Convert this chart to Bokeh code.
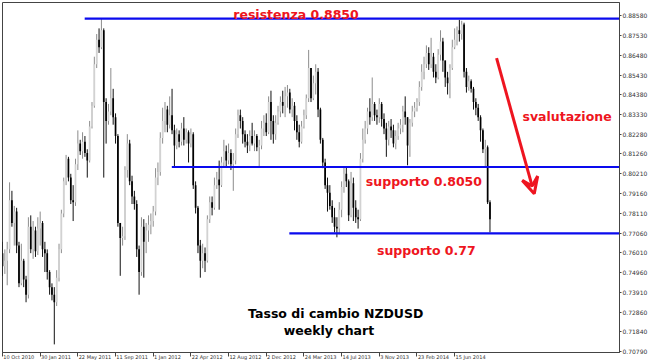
from bokeh.plotting import figure
from bokeh.models import (Range1d, FixedTicker, PrintfTickFormatter, Arrow, VeeHead,
                          ColumnDataSource, LinearAxis)
from bokeh.core.properties import value
from bokeh.embed import file_html
from bokeh.resources import INLINE

# ---- weekly NZDUSD candles ----
first_open = 0.7600
closes = [
    0.7530, 0.7560, 0.7620, 0.7880, 0.7760, 0.7820, 0.7640, 0.7440, 0.7560, 0.7460,
    0.7380, 0.7740, 0.7620, 0.7720, 0.7610, 0.7730, 0.7760, 0.7620, 0.7600, 0.7500,
    0.7420, 0.7380, 0.7340, 0.7470, 0.7620, 0.7810, 0.7980, 0.8100, 0.8000, 0.7880,
    0.7870, 0.8070, 0.8180, 0.8140, 0.8190, 0.8130, 0.8090, 0.8270, 0.8380, 0.8600,
    0.8730, 0.8690, 0.8780, 0.8400, 0.8300, 0.8350, 0.8420, 0.8320, 0.8220, 0.7760,
    0.7680, 0.7690, 0.8040, 0.8180, 0.7980, 0.7900, 0.7860, 0.7620, 0.7500, 0.7740,
    0.7660, 0.7720, 0.7750, 0.7770, 0.7820, 0.8000, 0.8030, 0.8210, 0.8300, 0.8360,
    0.8280, 0.8330, 0.8250, 0.8170, 0.8230, 0.8190, 0.8260, 0.8200, 0.8240, 0.8180,
    0.8230, 0.7960, 0.7840, 0.7640, 0.7560, 0.7600, 0.7560, 0.7780, 0.7870, 0.7840,
    0.7960, 0.7990, 0.7960, 0.8080, 0.8140, 0.8090, 0.8130, 0.8070, 0.8090, 0.8230,
    0.8330, 0.8300, 0.8230, 0.8190, 0.8170, 0.8220, 0.8180, 0.8220, 0.8160, 0.8170,
    0.8260, 0.8290, 0.8240, 0.8400, 0.8300, 0.8230, 0.8290, 0.8350, 0.8400, 0.8380,
    0.8430, 0.8450, 0.8360, 0.8380, 0.8300, 0.8240, 0.8190, 0.8270, 0.8330, 0.8420,
    0.8580, 0.8420, 0.8500, 0.8560, 0.8360, 0.8200, 0.8080, 0.7960, 0.7920, 0.7850,
    0.7790, 0.7740, 0.7730, 0.7830, 0.7950, 0.8020, 0.7980, 0.7800, 0.7970, 0.7840,
    0.7790, 0.7780, 0.8100, 0.8200, 0.8260, 0.8350, 0.8320, 0.8390, 0.8330, 0.8320,
    0.8390, 0.8310, 0.8260, 0.8200, 0.8270, 0.8250, 0.8180, 0.8220, 0.8260, 0.8280,
    0.8350, 0.8320, 0.8170, 0.8290, 0.8350, 0.8370, 0.8400, 0.8480, 0.8560, 0.8600,
    0.8660, 0.8600, 0.8640, 0.8560, 0.8530, 0.8650, 0.8720, 0.8620, 0.8530, 0.8500,
    0.8580, 0.8690, 0.8730, 0.8780, 0.8760, 0.8810, 0.8560, 0.8480, 0.8510, 0.8470,
    0.8400, 0.8370, 0.8320, 0.8250, 0.8150, 0.8160, 0.7870, 0.7780,
]
highs = [
    0.7660, 0.7620, 0.7660, 0.7975, 0.7930, 0.7850, 0.7840, 0.7660, 0.7650, 0.7570,
    0.7480, 0.7790, 0.7800, 0.7770, 0.7740, 0.7790, 0.7820, 0.7770, 0.7660, 0.7620,
    0.7510, 0.7440, 0.7420, 0.7510, 0.7650, 0.7830, 0.8000, 0.8120, 0.8110, 0.8020,
    0.7960, 0.8100, 0.8250, 0.8200, 0.8240, 0.8220, 0.8150, 0.8300, 0.8400, 0.8640,
    0.8760, 0.8790, 0.8842, 0.8790, 0.8420, 0.8390, 0.8580, 0.8470, 0.8340, 0.8230,
    0.7760, 0.7740, 0.8060, 0.8230, 0.8200, 0.8010, 0.7930, 0.7880, 0.7640, 0.7790,
    0.7780, 0.7760, 0.7800, 0.7810, 0.7850, 0.8050, 0.8080, 0.8240, 0.8370, 0.8400,
    0.8380, 0.8430, 0.8470, 0.8280, 0.8260, 0.8250, 0.8290, 0.8320, 0.8260, 0.8250,
    0.8260, 0.8240, 0.7980, 0.7850, 0.7670, 0.7650, 0.7630, 0.7800, 0.7900, 0.7900,
    0.8000, 0.8030, 0.8090, 0.8110, 0.8200, 0.8170, 0.8180, 0.8150, 0.8130, 0.8260,
    0.8360, 0.8360, 0.8320, 0.8250, 0.8230, 0.8250, 0.8290, 0.8250, 0.8230, 0.8200,
    0.8300, 0.8330, 0.8340, 0.8430, 0.8460, 0.8330, 0.8330, 0.8380, 0.8430, 0.8460,
    0.8480, 0.8490, 0.8470, 0.8420, 0.8400, 0.8330, 0.8280, 0.8300, 0.8360, 0.8440,
    0.8676, 0.8580, 0.8540, 0.8600, 0.8580, 0.8370, 0.8210, 0.8100, 0.8000, 0.7960,
    0.7880, 0.7840, 0.7790, 0.7870, 0.7980, 0.8060, 0.8060, 0.7990, 0.8030, 0.8000,
    0.7880, 0.7830, 0.8130, 0.8260, 0.8300, 0.8370, 0.8420, 0.8530, 0.8400, 0.8360,
    0.8420, 0.8400, 0.8340, 0.8290, 0.8300, 0.8310, 0.8280, 0.8250, 0.8290, 0.8310,
    0.8380, 0.8430, 0.8320, 0.8310, 0.8380, 0.8400, 0.8420, 0.8510, 0.8600, 0.8640,
    0.8700, 0.8690, 0.8740, 0.8660, 0.8600, 0.8680, 0.8780, 0.8740, 0.8620, 0.8560,
    0.8600, 0.8730, 0.8790, 0.8800, 0.8835, 0.8830, 0.8820, 0.8580, 0.8540, 0.8520,
    0.8480, 0.8420, 0.8390, 0.8330, 0.8260, 0.8200, 0.8170, 0.7880,
]
lows = [
    0.7480, 0.7490, 0.7430, 0.7600, 0.7740, 0.7640, 0.7600, 0.7420, 0.7430, 0.7420,
    0.7340, 0.7360, 0.7600, 0.7570, 0.7580, 0.7590, 0.7640, 0.7580, 0.7500, 0.7460,
    0.7380, 0.7350, 0.7117, 0.7320, 0.7450, 0.7600, 0.7790, 0.7960, 0.7980, 0.7860,
    0.7770, 0.7850, 0.8040, 0.8120, 0.8100, 0.8110, 0.8000, 0.8080, 0.8260, 0.8370,
    0.8580, 0.8660, 0.8680, 0.8000, 0.8180, 0.8280, 0.8330, 0.8280, 0.8180, 0.7740,
    0.7480, 0.7640, 0.7670, 0.8000, 0.7960, 0.7860, 0.7830, 0.7580, 0.7380, 0.7480,
    0.7470, 0.7600, 0.7660, 0.7700, 0.7740, 0.7800, 0.7960, 0.8010, 0.8180, 0.8240,
    0.8240, 0.8260, 0.8230, 0.8060, 0.8150, 0.8160, 0.8170, 0.8170, 0.8180, 0.8080,
    0.8160, 0.7940, 0.7810, 0.7600, 0.7470, 0.7520, 0.7500, 0.7550, 0.7760, 0.7800,
    0.7830, 0.7940, 0.7830, 0.7950, 0.8060, 0.8060, 0.8070, 0.8040, 0.7930, 0.8070,
    0.8210, 0.8260, 0.8180, 0.8160, 0.8130, 0.8140, 0.8170, 0.8140, 0.8140, 0.8060,
    0.8150, 0.8220, 0.8220, 0.8230, 0.8200, 0.8180, 0.8200, 0.8280, 0.8320, 0.8340,
    0.8320, 0.8370, 0.8340, 0.8320, 0.8250, 0.8200, 0.8160, 0.8180, 0.8260, 0.8310,
    0.8400, 0.8400, 0.8410, 0.8440, 0.8320, 0.8180, 0.8050, 0.7940, 0.7820, 0.7830,
    0.7760, 0.7710, 0.7684, 0.7700, 0.7790, 0.7920, 0.7950, 0.7770, 0.7790, 0.7770,
    0.7760, 0.7730, 0.7770, 0.8080, 0.8180, 0.8230, 0.8280, 0.8300, 0.8300, 0.8280,
    0.8290, 0.8270, 0.8230, 0.8110, 0.8170, 0.8210, 0.8160, 0.8150, 0.8200, 0.8230,
    0.8240, 0.8280, 0.8065, 0.8110, 0.8270, 0.8320, 0.8350, 0.8380, 0.8460, 0.8520,
    0.8580, 0.8570, 0.8580, 0.8530, 0.8500, 0.8520, 0.8620, 0.8560, 0.8480, 0.8440,
    0.8420, 0.8570, 0.8680, 0.8700, 0.8720, 0.8730, 0.8530, 0.8450, 0.8460, 0.8450,
    0.8360, 0.8330, 0.8300, 0.8190, 0.8130, 0.8060, 0.7860, 0.7710,
]
opens = [first_open] + closes[:-1]   # weekly open = previous weekly close
weeks = list(range(len(closes)))

date_labels = ["10 Oct 2010", "30 Jan 2011", "22 May 2011", "11 Sep 2011", "1 Jan 2012",
               "22 Apr 2012", "12 Aug 2012", "2 Dec 2012", "24 Mar 2013", "14 Jul 2013",
               "3 Nov 2013", "23 Feb 2014", "15 Jun 2014"]
weeks_between_labels = 16
price_ticks = [0.70790, 0.71840, 0.72860, 0.73910, 0.74960, 0.76010, 0.77060, 0.78110,
               0.79160, 0.80210, 0.81260, 0.82280, 0.83330, 0.84380, 0.85430, 0.86480,
               0.87530, 0.88580]

levels = [0.8842, 0.8056, 0.7705]          # resistenza, supporto, supporto
level_start_week = [34.9, 71.9, 121.8]

RED = "#ee1520"
BLUE = "#0a0aee"
FONT = value("DejaVu Sans")
PX_PER_WEEK = 2.378
DATE_FONT_PX = 5

p = figure(width=650, height=362, x_range=Range1d(0, 262), y_range=Range1d(0.7074, 0.8927),
           y_axis_location="right", toolbar_location=None, output_backend="svg",
           min_border_left=2, min_border_top=2, min_border_right=0, min_border_bottom=0)
p.grid.visible = False
p.outline_line_color = "#444444"
p.background_fill_color = "white"
p.border_fill_color = "white"

# candles
up = [c >= o for o, c in zip(opens, closes)]
src = ColumnDataSource(dict(
    x=weeks, high=highs, low=lows,
    top=[max(o, c) for o, c in zip(opens, closes)],
    bottom=[min(o, c) for o, c in zip(opens, closes)],
    body=["#d2d2d2" if u else "#000000" for u in up],
    wick=["#8c8c8c" if u else "#111111" for u in up],
))
p.segment(x0="x", x1="x", y0="low", y1="high", line_color="wick", line_width=1, source=src)
p.vbar(x="x", width=0.72, top="top", bottom="bottom", fill_color="body", line_color=None, source=src)

# horizontal levels
p.segment(x0=level_start_week, x1=[262] * 3, y0=levels, y1=levels, line_color=BLUE, line_width=2.2)

# annotations
p.text(x=[98.0, 154.3, 159.0, 220.8], y=[0.8866, 0.7980, 0.7612, 0.8325],
       text=["resistenza 0.8850", "supporto 0.8050", "supporto 0.77", "svalutazione"],
       text_color=RED, text_font=FONT, text_font_style="bold", text_font_size="12.5px",
       text_align="left", text_baseline="alphabetic")
p.text(x=[104.3, 119.4], y=[0.7278, 0.7188], text=["Tasso di cambio NZDUSD", "weekly chart"],
       text_color="black", text_font=FONT, text_font_style="bold", text_font_size="12.5px",
       text_align="left", text_baseline="alphabetic")
p.add_layout(Arrow(x_start=209.8, y_start=0.8632, x_end=225.8, y_end=0.7915,
                   line_color=RED, line_width=3,
                   end=VeeHead(size=16, line_color=RED, line_width=3, fill_color=None)))

# ---- bottom axis: tick marks at the weeks, labels starting at the tick (MT4 style) ----
date_ticks = [i * weeks_between_labels for i in range(len(date_labels))]
xa = p.xaxis[0]
xa.ticker = FixedTicker(ticks=date_ticks)
xa.major_label_overrides = {t: "" for t in date_ticks}
xa.major_label_text_font_size = "0px"
xa.major_label_standoff = 0
xa.major_tick_out = 4
xa.major_tick_in = 0
xa.minor_tick_line_color = None
xa.axis_line_color = "#444444"
xa.major_tick_line_color = "#444444"

# approximate DejaVu Sans advance widths (em) to left-align the labels on their ticks
W = {"0": .636, "1": .636, "2": .636, "3": .636, "4": .636, "5": .636, "6": .636, "7": .636,
     "8": .636, "9": .636, " ": .318, "O": .787, "c": .55, "t": .392, "J": .295, "a": .613,
     "n": .634, "M": .863, "y": .592, "S": .635, "e": .615, "p": .635, "A": .684, "r": .411,
     "u": .634, "g": .635, "D": .77, "N": .748, "o": .612, "v": .592, "F": .575, "b": .635,
     "l": .278}
label_pos = []
for t, lab in zip(date_ticks, date_labels):
    wpx = sum(W.get(ch, .6) for ch in lab) * DATE_FONT_PX
    label_pos.append(t + (wpx / 2 + 1.0) / PX_PER_WEEK)
xl = LinearAxis(ticker=FixedTicker(ticks=label_pos),
                major_label_overrides={pos: lab for pos, lab in zip(label_pos, date_labels)},
                major_label_text_font="DejaVu Sans", major_label_text_font_size=f"{DATE_FONT_PX}px",
                major_label_text_color="#333333", major_label_standoff=-3,
                major_tick_out=0, major_tick_in=0, major_tick_line_color=None,
                minor_tick_line_color=None, axis_line_color=None)
p.add_layout(xl, "below")

ya = p.yaxis[0]
ya.ticker = FixedTicker(ticks=price_ticks)
ya.formatter = PrintfTickFormatter(format="%.5f")
ya.major_label_text_font = "DejaVu Sans"
ya.major_label_text_font_size = "6px"
ya.major_label_text_color = "#333333"
ya.major_label_standoff = 1
ya.major_tick_out = 2
ya.major_tick_in = 0
ya.minor_tick_line_color = None
ya.axis_line_color = "#444444"
ya.major_tick_line_color = "#444444"

open("out.html", "w").write(file_html(p, INLINE))
